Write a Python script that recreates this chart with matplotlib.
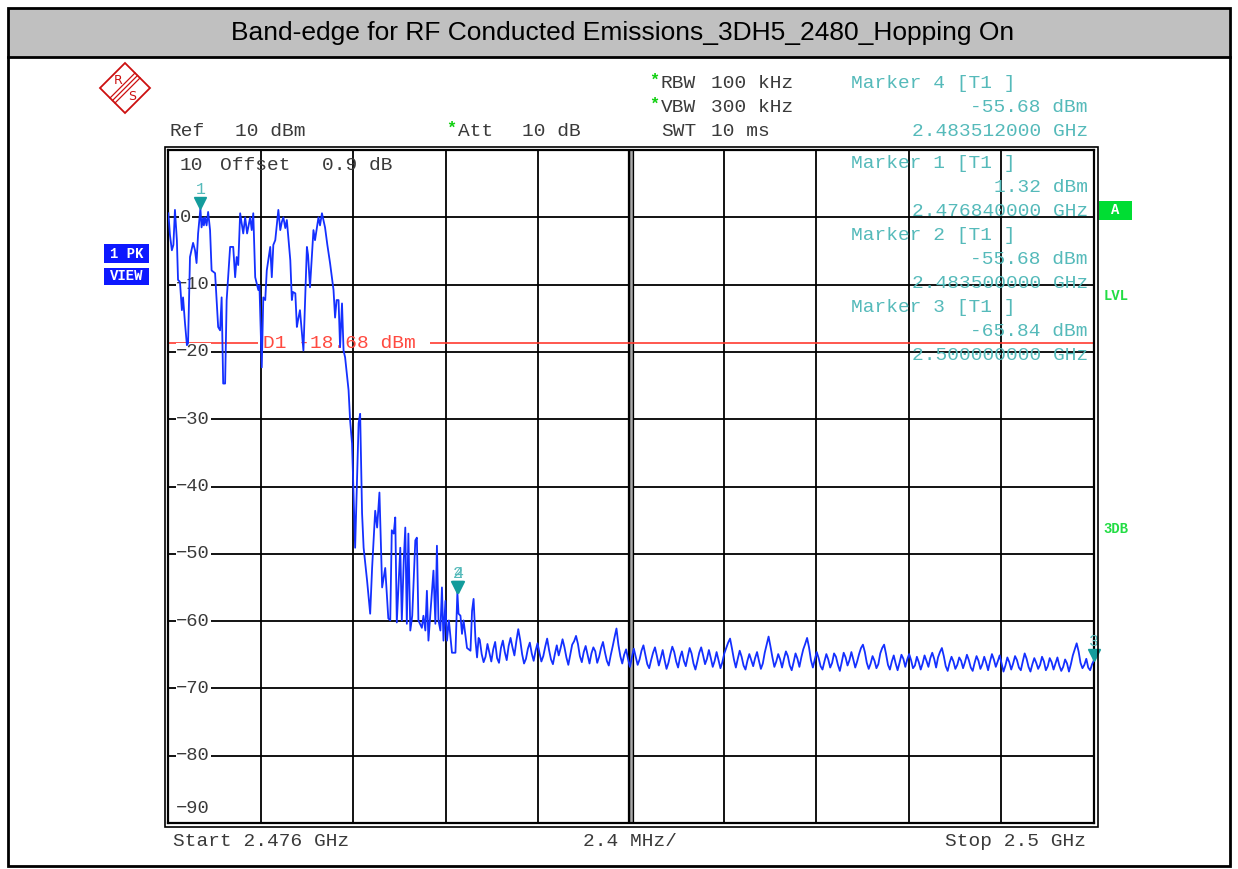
import matplotlib.pyplot as plt
import numpy as np
from matplotlib.patches import Rectangle, Polygon
from matplotlib.lines import Line2D
from matplotlib.transforms import offset_copy

# ---- data ----
title = 'Band-edge for RF Conducted Emissions_3DH5_2480_Hopping On'

f_start, f_stop = 2.476, 2.5          # GHz
ref_level, bottom_level = 10, -90     # dBm
d1_level = -18.68

# signal part of the trace (GHz, dBm)
sig_freq = [2.47601, 2.47605, 2.47610, 2.47614, 2.47618, 2.47623, 2.47626, 2.47631, 2.47636, 2.47639,
            2.47644, 2.47649, 2.47652, 2.47657, 2.47665, 2.47670, 2.47674, 2.47678, 2.47680, 2.47684,
            2.47687, 2.47691, 2.47693, 2.47696, 2.47700, 2.47704, 2.47709, 2.47713, 2.47722, 2.47730,
            2.47735, 2.47739, 2.47743, 2.47748, 2.47752, 2.47761, 2.47769, 2.47774, 2.47778, 2.47782,
            2.47787, 2.47795, 2.47800, 2.47805, 2.47813, 2.47817, 2.47821, 2.47826, 2.47834, 2.47837,
            2.47843, 2.47847, 2.47852, 2.47856, 2.47865, 2.47869, 2.47873, 2.47878, 2.47886, 2.47891,
            2.47895, 2.47899, 2.47904, 2.47908, 2.47917, 2.47921, 2.47924, 2.47930, 2.47934, 2.47937,
            2.47942, 2.47946, 2.47951, 2.47960, 2.47963, 2.47968, 2.47977, 2.47981, 2.47990, 2.47994,
            2.47999, 2.48007, 2.48013, 2.48020, 2.48029, 2.48033, 2.48037, 2.48042, 2.48046, 2.48051,
            2.48055, 2.48059, 2.48068, 2.48072, 2.48077, 2.48085, 2.48094, 2.48098, 2.48103, 2.48107,
            2.48116, 2.48124, 2.48129, 2.48137, 2.48142, 2.48148, 2.48155, 2.48163, 2.48171, 2.48176,
            2.48180, 2.48185, 2.48189, 2.48193, 2.48202, 2.48206, 2.48211, 2.48215, 2.48219, 2.48223,
            2.48228, 2.48233, 2.48241, 2.48245, 2.48249, 2.48258, 2.48262, 2.48267, 2.48271, 2.48275,
            2.48280, 2.48288, 2.48293, 2.48297, 2.48301, 2.48306, 2.48310, 2.48314, 2.48319, 2.48323,
            2.48328, 2.48336, 2.48345, 2.48350, 2.48353, 2.48358, 2.48362, 2.48366, 2.48375, 2.48384,
            2.48388, 2.48392, 2.48397, 2.48401, 2.48405]
sig_level = [0.6, -2.6, -4.9, -4.1, 1.1, -3.4, -9.3, -9.6, -13.8, -11.9,
             -15.7, -19.0, -18.7, -5.9, -3.8, -4.9, -6.8, -2.4, -1.2, 1.32,
             -1.5, -0.1, -1.2, 0.0, -1.2, 0.8, -1.9, -7.9, -8.3, -16.3,
             -16.8, -11.9, -24.7, -24.7, -12.3, -4.4, -4.4, -8.9, -5.9, -7.1,
             0.6, -2.4, 0.0, -2.4, 0.0, -1.9, 0.6, -8.9, -10.8, -10.1,
             -22.3, -11.9, -12.3, -7.9, -4.4, -8.9, -4.1, -3.4, 1.1, -1.9,
             -0.7, 0.0, -1.6, -0.4, -6.4, -12.3, -11.1, -11.3, -16.3, -15.3,
             -13.8, -16.5, -19.8, -4.4, -5.6, -10.4, -1.9, -3.4, 0.0, -1.2,
             0.6, -1.5, -4.1, -6.8, -10.8, -14.9, -12.3, -12.3, -19.3, -12.8,
             -19.8, -20.8, -25.7, -30.2, -33.6, -49.1, -30.6, -29.2, -44.0, -49.1,
             -54.0, -58.9, -52.1, -43.6, -46.1, -40.9, -55.0, -52.1, -59.6, -59.9,
             -46.5, -47.0, -44.6, -60.2, -49.1, -59.9, -51.0, -46.1, -60.4, -47.0,
             -61.4, -59.2, -48.0, -47.6, -59.9, -61.0, -59.2, -61.4, -55.5, -62.9,
             -58.9, -52.5, -60.4, -48.8, -59.9, -61.4, -55.0, -62.9, -57.0, -62.9,
             -59.9, -64.7, -64.7, -55.68, -58.9, -59.2, -61.9, -59.9, -64.0, -64.4,
             -58.5, -56.7, -62.9, -65.4, -62.5]

# noise floor part of the trace, sweep points from 2.48408 GHz to 2.5 GHz (dBm)
noise_level = [-62.8, -64.9, -66.1, -65.3, -63.4, -64.7, -66.0, -64.2, -63.1, -65.5,
               -66.2, -64.0, -62.9, -64.6, -65.8, -63.7, -62.5, -63.9, -65.1, -63.0,
               -61.2, -62.8, -64.9, -66.3, -65.6, -64.1, -63.2, -64.8, -65.9, -64.4,
               -63.3, -64.7, -66.0, -65.2, -63.8, -62.6, -64.3, -65.7, -66.4, -64.9,
               -63.6, -65.1, -64.0, -62.7, -63.9, -65.4, -66.5, -65.0, -63.5, -63.0,
               -62.2, -63.4, -65.2, -66.1, -64.6, -63.7, -65.0, -66.3, -64.8, -63.9,
               -64.5, -66.2, -65.3, -64.0, -63.1, -64.6, -65.9, -66.6, -65.1, -63.8,
               -62.4, -61.1, -63.5, -65.2, -66.3, -65.0, -64.2, -65.6, -66.8, -65.4,
               -64.1, -65.3, -66.5, -65.7, -64.4, -63.6, -65.0, -66.4, -67.0, -65.8,
               -64.7, -63.9, -65.2, -66.6, -65.5, -64.3, -65.8, -67.1, -66.2, -64.9,
               -63.8, -64.6, -66.0, -66.9, -65.4, -64.5, -65.9, -66.7, -65.3, -64.0,
               -64.8, -66.3, -67.2, -66.0, -64.7, -63.9, -65.1, -66.4, -65.6, -64.3,
               -65.5, -66.8, -65.9, -64.6, -65.8, -67.0, -66.1, -64.8, -64.0, -63.2,
               -62.6, -64.1, -65.7, -66.9, -65.6, -64.4, -65.3, -66.6, -67.2, -65.9,
               -64.9, -65.8, -66.7, -65.5, -64.6, -65.9, -67.1, -66.3, -64.7, -63.5,
               -62.3, -63.8, -65.4, -66.8, -66.0, -64.9, -65.7, -66.9, -65.6, -64.5,
               -65.2, -66.6, -67.3, -66.1, -64.8, -65.6, -66.8, -65.4, -64.2, -63.4,
               -62.5, -63.9, -65.8, -66.9, -65.7, -64.6, -65.5, -66.7, -67.2, -66.0,
               -64.9, -65.7, -66.9, -66.2, -64.8, -65.3, -66.5, -67.4, -66.1, -64.7,
               -65.4, -66.6, -65.8, -64.6, -65.7, -66.9, -66.0, -64.9, -64.0, -63.5,
               -64.6, -66.2, -67.1, -66.3, -65.2, -65.9, -67.0, -66.4, -64.8, -64.0,
               -63.5, -64.9, -66.5, -67.2, -66.0, -65.1, -66.3, -67.3, -66.2, -65.0,
               -65.6, -66.8, -65.7, -64.9, -65.8, -67.0, -66.6, -65.3, -66.1, -67.2,
               -66.3, -65.1, -65.9, -66.8, -65.5, -64.7, -65.6, -66.9, -65.4, -64.6,
               -64.0, -65.2, -66.7, -67.4, -66.2, -65.3, -66.0, -67.1, -66.5, -65.4,
               -65.9, -67.0, -66.1, -65.0, -65.8, -66.9, -67.4, -66.2, -65.2, -65.9,
               -67.1, -66.4, -65.3, -66.2, -67.3, -66.0, -64.9, -65.7, -66.8, -66.0,
               -65.1, -66.3, -67.5, -66.6, -65.4, -66.1, -67.2, -66.3, -65.2, -65.8,
               -66.9, -67.3, -66.0, -64.8, -65.6, -66.8, -67.5, -66.4, -65.5, -66.2,
               -67.1, -66.5, -65.3, -66.0, -67.3, -66.7, -65.5, -66.1, -67.2, -66.3,
               -65.4, -66.6, -67.4, -66.8, -65.7, -66.3, -67.5, -66.4, -65.1, -64.2,
               -63.3, -64.5, -66.2, -67.0, -66.5, -65.6, -66.9, -67.3, -66.4, -65.84]

marker_names = ['1', '2', '3', '4']
marker_freq = [2.47684, 2.4835, 2.5, 2.483512]
marker_level = [1.32, -55.68, -65.84, -55.68]
marker_info = [('Marker 1 [T1 ]', '1.32 dBm', '2.476840000 GHz'),
               ('Marker 2 [T1 ]', '-55.68 dBm', '2.483500000 GHz'),
               ('Marker 3 [T1 ]', '-65.84 dBm', '2.500000000 GHz')]

noise_freq = np.linspace(2.48408, f_stop, len(noise_level))
freq = np.concatenate([sig_freq, noise_freq])
level = np.concatenate([sig_level, noise_level])

# ---- layout helpers (pixel positions of the screenshot) ----
W, H = 1238, 869
MONO = ['Liberation Mono', 'DejaVu Sans Mono']
TEAL = '#55baba'
GRAY = '#3a3a3a'


def fx(x):
    return x / W


def fy(y):
    return 1 - y / H


fig = plt.figure(figsize=(W / 100, H / 100), dpi=100)
fig.patch.set_facecolor('white')

# title bar and outer frame
fig.patches.append(Rectangle((fx(9), fy(57)), fx(1229) - fx(9), fy(9) - fy(57),
                             transform=fig.transFigure, facecolor='#c0c0c0', edgecolor='none'))
fig.patches.append(Rectangle((fx(8), fy(866)), fx(1230) - fx(8), fy(8) - fy(866),
                             transform=fig.transFigure, fill=False, edgecolor='black', lw=2))
fig.lines.append(Line2D([fx(8), fx(1230)], [fy(57), fy(57)], transform=fig.transFigure,
                        color='black', lw=2))
fig.text(fx(623), fy(33), title, ha='center', va='center', fontsize=19,
         family='Liberation Sans', color='black')

# main diagram
ax = fig.add_axes([fx(168), fy(823), fx(1094) - fx(168), fy(150) - fy(823)])
ax.set_xlim(f_start, f_stop)
ax.set_ylim(bottom_level, ref_level)
ax.set_xticks(np.linspace(f_start, f_stop, 11))
ax.set_yticks(np.arange(bottom_level, ref_level + 1, 10))
ax.tick_params(length=0, labelbottom=False, labelleft=False)
ax.set_axisbelow(True)
ax.grid(color='black', lw=1.3)
for s in ax.spines.values():
    s.set_linewidth(1.6)
fig.patches.append(Rectangle((fx(164.5), fy(826.5)), fx(1097.5) - fx(164.5), fy(146.5) - fy(826.5),
                             transform=fig.transFigure, fill=False, edgecolor='black', lw=1.2))

# centre line drawn double
ax.axvline((f_start + f_stop) / 2, color='black', lw=4.5, zorder=0.6)
ax.axvline((f_start + f_stop) / 2, color='#a8a8a8', lw=1.8, zorder=0.7)

# level labels inside the grid
for v in range(0, bottom_level, -10):
    lab = '0' if v == 0 else '\u2212' + str(-v)
    ax.text(0.009 if v else 0.013, v, lab, transform=ax.get_yaxis_transform(), ha='left', va='center',
            fontsize=13.5, family=MONO, color=GRAY, zorder=2.5,
            bbox=dict(facecolor='white', edgecolor='none', pad=0.5))
ax.text(0.009, bottom_level + 2.2, '\u221290', transform=ax.get_yaxis_transform(), ha='left',
        va='center', fontsize=13.5, family=MONO, color=GRAY, zorder=2.5)

# display line D1
d1_gap = (2.47834, 2.48280)
ax.hlines(d1_level, f_start, d1_gap[0], color='#ff3b30', lw=1.2, zorder=2)
ax.hlines(d1_level, d1_gap[1], f_stop, color='#ff3b30', lw=1.2, zorder=2)
ax.text(2.47847, d1_level, 'D1 -18.68 dBm', ha='left', va='center', fontsize=14,
        family=MONO, color='#ff4a40', zorder=2.5)

# trace
ax.plot(freq, level, color='#1430ff', lw=1.3, zorder=4)

# markers
tri = offset_copy(ax.transData, fig=fig, x=0, y=5, units='dots')
num = offset_copy(ax.transData, fig=fig, x=0, y=19, units='dots')
ax.plot(marker_freq, marker_level, ls='none', marker='v', ms=9, color='#139c9c',
        transform=tri, clip_on=False, zorder=5)
for name, f, l in zip(marker_names, marker_freq, marker_level):
    ax.text(f, l, name, transform=num, ha='center', va='center', fontsize=12,
            family=MONO, color=TEAL, zorder=5, clip_on=False)

# marker readouts inside the diagram
for i, (head, val, fr) in enumerate(marker_info):
    y0 = 164 + 72 * i
    fig.text(fx(851), fy(y0), head, ha='left', va='center', fontsize=14, family=MONO, color=TEAL)
    fig.text(fx(1088), fy(y0 + 24), val, ha='right', va='center', fontsize=14, family=MONO, color=TEAL)
    fig.text(fx(1088), fy(y0 + 48), fr, ha='right', va='center', fontsize=14, family=MONO, color=TEAL)

# header block
fig.text(fx(851), fy(83), 'Marker 4 [T1 ]', ha='left', va='center', fontsize=14, family=MONO, color=TEAL)
fig.text(fx(1088), fy(107), '-55.68 dBm', ha='right', va='center', fontsize=14, family=MONO, color=TEAL)
fig.text(fx(1088), fy(131), '2.483512000 GHz', ha='right', va='center', fontsize=14, family=MONO, color=TEAL)

hdr = [(170, 131, 'Ref'), (235, 131, '10 dBm'), (458, 131, 'Att'), (522, 131, '10 dB'),
       (661, 83, 'RBW'), (711, 83, '100 kHz'), (661, 107, 'VBW'), (711, 107, '300 kHz'),
       (661, 131, 'SWT'), (711, 131, '10 ms'),
       (180, 165, '10'), (220, 165, 'Offset'), (322, 165, '0.9 dB')]
for x, y, t in hdr:
    fig.text(fx(x), fy(y), t, ha='left', va='center', fontsize=14, family=MONO, color=GRAY)
for x, y in [(446, 128), (649, 80), (649, 104)]:
    fig.text(fx(x), fy(y), '*', ha='left', va='center', fontsize=12, family=MONO,
             color='#10d010', weight='bold')

# footer
fig.text(fx(173), fy(842), 'Start 2.476 GHz', ha='left', va='center', fontsize=14, family=MONO, color=GRAY)
fig.text(fx(583), fy(842), '2.4 MHz/', ha='left', va='center', fontsize=14, family=MONO, color=GRAY)
fig.text(fx(1086), fy(842), 'Stop 2.5 GHz', ha='right', va='center', fontsize=14, family=MONO, color=GRAY)

# side annotations
for y0, y1, t in [(244, 263, '1 PK'), (268, 285, 'VIEW')]:
    fig.patches.append(Rectangle((fx(104), fy(y1)), fx(149) - fx(104), fy(y0) - fy(y1),
                                 transform=fig.transFigure, facecolor='#0d18ff', edgecolor='none'))
    fig.text(fx(126.5), fy((y0 + y1) / 2), t, ha='center', va='center', fontsize=10,
             family=MONO, weight='bold', color='white')
fig.patches.append(Rectangle((fx(1099), fy(220)), fx(1132) - fx(1099), fy(201) - fy(220),
                             transform=fig.transFigure, facecolor='#00dd33', edgecolor='none'))
fig.text(fx(1115.5), fy(210.5), 'A', ha='center', va='center', fontsize=10, family=MONO,
         weight='bold', color='white')
for y, t in [(296, 'LVL'), (529, '3DB')]:
    fig.text(fx(1116), fy(y), t, ha='center', va='center', fontsize=10, family=MONO,
             weight='bold', color='#22dd44')

# R&S logo
cx, cy, r = 125, 88, 25
fig.patches.append(Polygon([(fx(cx - r), fy(cy)), (fx(cx), fy(cy - r)), (fx(cx + r), fy(cy)),
                            (fx(cx), fy(cy + r))], closed=True, fill=False, edgecolor='#cc1010',
                           lw=1.3, transform=fig.transFigure))
for d in (-2.5, 0, 2.5):
    fig.lines.append(Line2D([fx(cx + r / 2 + d), fx(cx - r / 2 + d)], [fy(cy - r / 2 + d), fy(cy + r / 2 + d)],
                            transform=fig.transFigure, color='#cc1010', lw=0.9))
fig.text(fx(118), fy(80), 'R', ha='center', va='center', fontsize=9, color='#cc1010',
         family='DejaVu Sans')
fig.text(fx(132), fy(96), 'S', ha='center', va='center', fontsize=9, color='#cc1010',
         family='DejaVu Sans')

fig.savefig('out.png', dpi=100)
